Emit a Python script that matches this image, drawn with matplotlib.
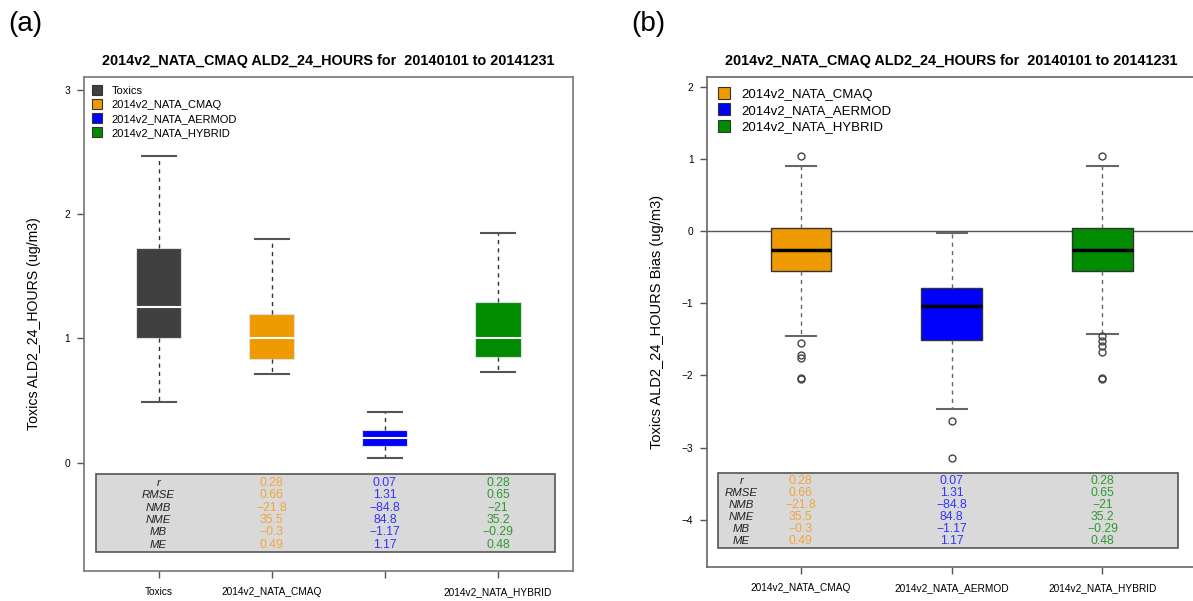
import matplotlib
matplotlib.use('Agg')
import matplotlib.pyplot as plt
from matplotlib.lines import Line2D
from matplotlib.patches import Rectangle

plt.rcParams['font.family'] = ['Liberation Sans', 'DejaVu Sans']

# ---- data: panel (a) concentrations ----
a_names = ['Toxics', '2014v2_NATA_CMAQ', '2014v2_NATA_AERMOD', '2014v2_NATA_HYBRID']
a_ticklabels = ['Toxics', '2014v2_NATA_CMAQ', '', '2014v2_NATA_HYBRID']
a_whislo = [0.49, 0.71, 0.04, 0.725]
a_q1 = [1.0, 0.835, 0.13, 0.85]
a_med = [1.25, 1.0, 0.20, 1.0]
a_q3 = [1.725, 1.195, 0.265, 1.295]
a_whishi = [2.47, 1.80, 0.41, 1.85]

# ---- data: panel (b) bias ----
b_names = ['2014v2_NATA_CMAQ', '2014v2_NATA_AERMOD', '2014v2_NATA_HYBRID']
b_whislo = [-1.455, -2.47, -1.425]
b_q1 = [-0.56, -1.51, -0.55]
b_med = [-0.26, -1.035, -0.26]
b_q3 = [0.035, -0.785, 0.035]
b_whishi = [0.90, -0.025, 0.90]
b_fliers = [[1.04, -1.555, -1.72, -1.76, -2.03, -2.05],
            [-2.63, -3.14],
            [1.04, -1.46, -1.53, -1.60, -1.67, -2.04, -2.05]]

# ---- stats table ----
stat_names = ['r', 'RMSE', 'NMB', 'NME', 'MB', 'ME']
cmaq_stats = [0.28, 0.66, -21.8, 35.5, -0.3, 0.49]
aermod_stats = [0.07, 1.31, -84.8, 84.8, -1.17, 1.17]
hybrid_stats = [0.28, 0.65, -21, 35.2, -0.29, 0.48]

title = '2014v2_NATA_CMAQ ALD2_24_HOURS for  20140101 to 20141231'
box_colors = ['#404040', '#EE9A00', '#0000FF', '#008B00']
text_colors = ['#F2A43A', '#3333FF', '#2E9B2E']


def fmt(v):
    return f'{v:g}'.replace('-', '\u2212')


def make_stats(whislo, q1, med, q3, whishi, fliers=None):
    out = []
    for i in range(len(med)):
        out.append(dict(whislo=whislo[i], q1=q1[i], med=med[i], q3=q3[i],
                        whishi=whishi[i], fliers=fliers[i] if fliers else []))
    return out


def style_axes(ax, spine_color):
    ax.tick_params(axis='both', labelsize=7.3, length=5, color='#555555', width=1)
    ax.tick_params(axis='x', pad=7)
    ax.tick_params(axis='y', pad=5)
    for s in ax.spines.values():
        s.set_color(spine_color)
        s.set_linewidth(1.2)
    ax.set_title(title, fontsize=10.4, fontweight='bold', pad=9)


def stats_table(ax, rect, label_x, y_first, y_step):
    x0, x1, y0, y1 = rect
    ax.add_patch(Rectangle((x0, y1), x1 - x0, y0 - y1, facecolor='#D9D9D9',
                           edgecolor='#555555', lw=1.2, zorder=3))
    n = len(ax.get_xticks())
    for i, name in enumerate(stat_names):
        y = y_first + y_step * i
        ax.text(label_x, y, name, style='italic', fontsize=8.2, color='#222222',
                ha='center', va='center', zorder=4)
        for j, col in enumerate([cmaq_stats, aermod_stats, hybrid_stats]):
            ax.text(n - 2 + j, y, fmt(col[i]), fontsize=8.7, color=text_colors[j],
                    ha='center', va='center', zorder=4)


fig = plt.figure(figsize=(11.93, 6.01), dpi=100)

# ================= panel (a) =================
ax1 = fig.add_axes([0.0704, 0.0507, 0.4096, 0.8207])
bp = ax1.bxp(make_stats(a_whislo, a_q1, a_med, a_q3, a_whishi), positions=[1, 2, 3, 4],
             widths=0.4, patch_artist=True, showfliers=False,
             whiskerprops=dict(color='#333333', lw=1, linestyle=(0, (3, 3))),
             capprops=dict(color='#555555', lw=1.5),
             medianprops=dict(color='white', lw=1.5),
             boxprops=dict(lw=0.8))
for patch, c in zip(bp['boxes'], box_colors):
    patch.set_facecolor(c)
    patch.set_edgecolor('#e0e0e0')
for cap in bp['caps']:
    xd = cap.get_xdata()
    m = (xd[0] + xd[1]) / 2
    cap.set_xdata([m - 0.15, m + 0.15])
ax1.set_xlim(0.34, 4.66)
ax1.set_ylim(-0.869, 3.10)
ax1.set_xticks([1, 2, 3, 4])
ax1.set_xticklabels(a_ticklabels)
ax1.set_yticks([0, 1, 2, 3])
style_axes(ax1, '#777777')
ax1.set_ylabel('Toxics ALD2_24_HOURS (ug/m3)', fontsize=10.2, labelpad=17)

stats_table(ax1, (0.45, 4.50, -0.093, -0.719), 1, -0.162, -0.1)

handles = [Line2D([], [], marker='s', linestyle='none', markersize=7.5,
                  markerfacecolor=c, markeredgecolor='#333333', markeredgewidth=0.8)
           for c in box_colors]
ax1.legend(handles, a_names, loc='upper left', frameon=False, fontsize=8,
           handlelength=0.8, handletextpad=0.9, labelspacing=0.36,
           borderaxespad=0.6, borderpad=0.2, bbox_to_anchor=(0.0, 1.0))

fig.text(0.007, 0.96, '(a)', fontsize=20, ha='left', va='center')

# ================= panel (b) =================
ax2 = fig.add_axes([0.5929, 0.0571, 0.4096, 0.8143])
ax2.axhline(0, color='#555555', lw=1, zorder=1)
bp2 = ax2.bxp(make_stats(b_whislo, b_q1, b_med, b_q3, b_whishi, b_fliers), positions=[1, 2, 3],
              widths=0.4, patch_artist=True, showfliers=True,
              whiskerprops=dict(color='#666666', lw=1, linestyle=(0, (3, 3))),
              capprops=dict(color='#666666', lw=1.5),
              medianprops=dict(color='black', lw=2.5),
              boxprops=dict(lw=1, edgecolor='#333333'),
              flierprops=dict(marker='o', markerfacecolor='none', markeredgecolor='#444444',
                              markersize=5, markeredgewidth=1))
for patch, c in zip(bp2['boxes'], box_colors[1:]):
    patch.set_facecolor(c)
    patch.set_zorder(2)
ax2.set_xlim(0.38, 3.62)
ax2.set_ylim(-4.65, 2.129)
ax2.set_xticks([1, 2, 3])
ax2.set_xticklabels(b_names)
b_yticks = [-4, -3, -2, -1, 0, 1, 2]
ax2.set_yticks(b_yticks)
ax2.set_yticklabels([fmt(v) for v in b_yticks])
style_axes(ax2, '#666666')
ax2.set_ylabel('Toxics ALD2_24_HOURS Bias (ug/m3)', fontsize=10.5, labelpad=13)

stats_table(ax2, (0.45, 3.50, -3.35, -4.395), 0.605, -3.47, -0.166)

handles2 = [Line2D([], [], marker='s', linestyle='none', markersize=9,
                   markerfacecolor=c, markeredgecolor='#333333', markeredgewidth=0.8)
            for c in box_colors[1:]]
ax2.legend(handles2, b_names, loc='upper left', frameon=False, fontsize=9.5,
           handlelength=0.9, handletextpad=0.85, labelspacing=0.3,
           borderaxespad=0.6, borderpad=0.25)

fig.text(0.529, 0.96, '(b)', fontsize=20, ha='left', va='center')

fig.savefig('out.png', dpi=100)
